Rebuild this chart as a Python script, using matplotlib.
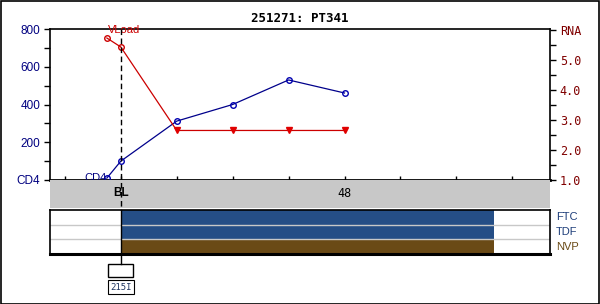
import matplotlib
matplotlib.use("Agg")
import matplotlib.pyplot as plt
from matplotlib.patches import Rectangle

# ---- data ----
title = "251271: PT341"
cd4_weeks = [-3, 0, 12, 24, 36, 48]
cd4_values = [10, 100, 312, 400, 530, 461]
vl_weeks = [-3, 0, 12, 24, 36, 48]
vl_values = [5.73, 5.43, 2.65, 2.65, 2.65, 2.65]
vl_below = [False, False, True, True, True, True]
x_ticks = [-12, 0, 12, 24, 36, 48, 60, 72, 84]
x_ticklabels = {0: "BL", 48: "48"}
cd4_ticks = [0, 200, 400, 600, 800]
cd4_ticklabels = ["CD4", "200", "400", "600", "800"]
rna_ticks = [1.0, 2.0, 3.0, 4.0, 5.0, 6.0]
rna_ticklabels = ["1.0", "2.0", "3.0", "4.0", "5.0", "RNA"]
drugs = ["FTC", "TDF", "NVP"]
drug_start = [0, 0, 0]
drug_end = [80, 80, 80]
drug_colors = ["#254e86", "#254e86", "#6a4a16"]
drug_label_colors = ["#1f3f7a", "#1f3f7a", "#6a4a16"]
mutation_week = 0
mutations = "215I"

W, H = 600, 304
XMIN, XMAX = -15.2, 92.1

fig = plt.figure(figsize=(6, 3.04), dpi=100)
fig.patch.set_facecolor("white")

def ax_px(x0, y0, x1, y1, **kw):
    return fig.add_axes([x0 / W, 1 - y1 / H, (x1 - x0) / W, (y1 - y0) / H], **kw)

# border
fig.add_artist(Rectangle((0.5 / W, 0.5 / H), 1 - 1.5 / W, 1 - 1.5 / H,
                         transform=fig.transFigure, fill=False, lw=1.2, ec="black"))

mono = "DejaVu Sans Mono"
navy = "#000080"
dred = "#800000"

# main axes
ax = ax_px(50, 29, 550, 180)
ax.set_xlim(XMIN, XMAX)
ax.set_ylim(0, 800)
ax.plot(cd4_weeks, cd4_values, color="#00008b", lw=0.9, marker="o", ms=4,
        mfc="none", mec="#0000b0", mew=1.0, zorder=4, clip_on=False)
ax.set_yticks(cd4_ticks)
ax.set_yticklabels(cd4_ticklabels, color=navy, fontsize=8.5, family="Liberation Sans")
ax.set_yticks([100, 300, 500, 700], minor=True)
ax.tick_params(axis="y", which="both", length=4, width=1, direction="out", pad=3)
ax.set_xticks(x_ticks)
ax.set_xticklabels([])
ax.tick_params(axis="x", length=3, direction="in", width=1)
for s in ["left", "top", "right"]:
    ax.spines[s].set_linewidth(1.2)
ax.spines["bottom"].set_linewidth(2)

ax2 = ax.twinx()
ax2.set_ylim(1.0, 6.03)
ax2.plot(vl_weeks, vl_values, color="#cc0000", lw=0.9, zorder=3, clip_on=False)
for xw, yv, b in zip(vl_weeks, vl_values, vl_below):
    if b:
        ax2.plot(xw, yv, marker="v", ms=4.5, color="#e00000", zorder=5, clip_on=False)
    else:
        ax2.plot(xw, yv, marker="o", ms=4, mfc="none", mec="#cc0000", mew=1.0,
                 zorder=5, clip_on=False)
ax2.set_yticks(rna_ticks)
ax2.set_yticklabels(rna_ticklabels, color=dred, fontsize=8.5, family=mono)
ax2.set_yticks([1.5, 2.5, 3.5, 4.5, 5.5], minor=True)
ax2.tick_params(axis="y", which="both", length=4, width=1, direction="out", pad=3)
ax2.set_xlim(XMIN, XMAX)
for s in ax2.spines.values():
    s.set_visible(False)

ax.text(-3, 8, "CD4", color=navy, fontsize=8, family="Liberation Sans",
        ha="right", va="center", zorder=6)
ax2.text(0.6, 5.99, "VLoad", color="#cc0000", fontsize=8, family="Liberation Sans",
         ha="center", va="center", zorder=6)

ax.set_title(title, fontsize=9, fontweight="bold", family=mono, pad=5)

# gray band
axg = ax_px(50, 180, 550, 208)
axg.set_xlim(XMIN, XMAX)
axg.set_ylim(0, 1)
axg.set_facecolor("#c8c8c8")
for s in axg.spines.values():
    s.set_visible(False)
axg.set_xticks([])
axg.set_yticks([])
for wk, lab in x_ticklabels.items():
    axg.text(wk, 0.52, lab, ha="center", va="center", fontsize=8.5,
             family="Liberation Sans" if lab == "BL" else mono,
             fontweight="bold" if lab == "BL" else "normal")

# treatment panel
axt = ax_px(50, 210, 550, 254)
axt.set_xlim(XMIN, XMAX)
axt.set_ylim(len(drugs), 0)
for i, (d, s0, e0, c) in enumerate(zip(drugs, drug_start, drug_end, drug_colors)):
    axt.barh(i + 0.5, e0 - s0, left=s0, height=1.0, color=c, lw=0)
    axt.text(1.012, 1 - (i + 0.5) / len(drugs), d, transform=axt.transAxes,
             color=drug_label_colors[i], fontsize=8, family="Liberation Sans",
             va="center", ha="left")
for i in range(1, len(drugs)):
    axt.axhline(i, color="#c8c8c8", lw=1)
axt.set_xticks([])
axt.set_yticks([])
for s in axt.spines.values():
    s.set_linewidth(1.2)
axt.spines["bottom"].set_linewidth(2.2)

# dashed vertical line through everything
axall = ax_px(50, 29, 550, 300)
axall.set_xlim(XMIN, XMAX)
axall.set_ylim(300, 29)
axall.axis("off")
axall.patch.set_alpha(0)
axall.plot([mutation_week, mutation_week], [29, 210], color="black", lw=1,
           ls=(0, (4, 2.5)), zorder=10)
axall.plot([mutation_week, mutation_week], [210, 264], color="black", lw=1, zorder=10)
axall.add_patch(Rectangle((-2.8, 264), 5.4, 13, fill=True, fc="white", ec="black", lw=1))
axall.text(mutation_week, 287, mutations, ha="center", va="center", fontsize=6.5,
           family=mono, color="#1f3560",
           bbox=dict(boxstyle="square,pad=0.25", fc="white", ec="black", lw=0.8))

fig.savefig("out.png", dpi=100)
